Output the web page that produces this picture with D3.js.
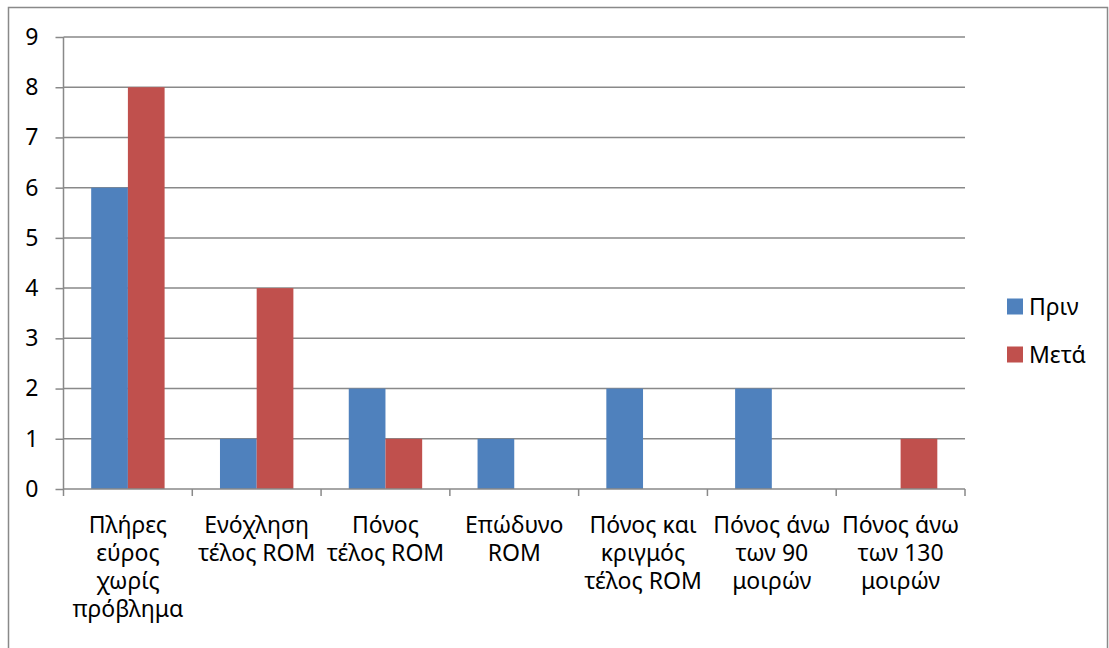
<!DOCTYPE html>
<html>
<head>
<meta charset="utf-8">
<script src="https://cdn.jsdelivr.net/npm/d3@7/dist/d3.min.js"></script>
<style>
  html, body { margin: 0; padding: 0; background: #fff; }
  svg { display: block; }
  text { font-family: "Noto Sans", sans-serif; fill: #000; }
</style>
</head>
<body>
<svg id="chart" width="1109" height="648"></svg>
<script>
// Category labels, already broken into lines
const categoryLines = [
  ["Πλήρες", "εύρος", "χωρίς", "πρόβλημα"],
  ["Ενόχληση", "τέλος ROM"],
  ["Πόνος", "τέλος ROM"],
  ["Επώδυνο", "ROM"],
  ["Πόνος και", "κριγμός", "τέλος ROM"],
  ["Πόνος άνω", "των 90", "μοιρών"],
  ["Πόνος άνω", "των 130", "μοιρών"]
];
const categories = categoryLines.map(l => l.join(" "));
const seriesNames = ["Πριν", "Μετά"];
const before = [6, 1, 2, 1, 2, 2, 0];
const after  = [8, 4, 1, 0, 0, 0, 1];
const yTicks = [0, 1, 2, 3, 4, 5, 6, 7, 8, 9];
const colors = ["#4F81BD", "#C0504D"];

const FONT = "'Noto Sans', sans-serif";
const FS = 23;

const svg = d3.select("#chart");
const gridColor = "#898989";

// outer frame
svg.append("rect")
  .attr("x", 8.5).attr("y", 7.5)
  .attr("width", 1099).attr("height", 660)
  .attr("fill", "none").attr("stroke", gridColor).attr("stroke-width", 1.5);

const plot = { left: 63.5, right: 965, top: 37, bottom: 489 };

const x0 = d3.scaleBand().domain(categories).range([plot.left, plot.right]);
const barW = x0.bandwidth() * 0.285;
const y = d3.scaleLinear().domain([0, 9]).range([plot.bottom, plot.top]);

// horizontal gridlines
svg.append("g").selectAll("line").data(yTicks.filter(t => t > 0)).join("line")
  .attr("x1", plot.left).attr("x2", plot.right)
  .attr("y1", d => y(d)).attr("y2", d => y(d))
  .attr("stroke", gridColor).attr("stroke-width", 1.5);

// bars
const rows = categories.map((c, i) => ({ c, vals: [before[i], after[i]] }));
const groups = svg.append("g").selectAll("g").data(rows).join("g")
  .attr("transform", d => `translate(${x0(d.c) + (x0.bandwidth() - 2 * barW) / 2},0)`);
groups.selectAll("rect").data(d => d.vals.map((v, k) => ({ v, k })).filter(e => e.v > 0)).join("rect")
  .attr("x", e => e.k * barW)
  .attr("width", barW)
  .attr("y", e => y(e.v))
  .attr("height", e => y(0) - y(e.v))
  .attr("fill", e => colors[e.k]);

// y axis
const yAxis = d3.axisLeft(y).tickValues(yTicks).tickSize(8).tickPadding(17).tickFormat(d3.format("d"));
const gy = svg.append("g").attr("transform", `translate(${plot.left},0)`).call(yAxis);
gy.select(".domain").attr("stroke", gridColor).attr("stroke-width", 1.5).attr("d", `M0,${plot.top}V${plot.bottom}`);
gy.selectAll(".tick line").attr("stroke", gridColor).attr("stroke-width", 1.5);
gy.selectAll(".tick text").attr("font-size", FS).attr("font-family", FONT).attr("fill", "#000");

// x axis: boundaries between categories
const bounds = categories.map(c => x0(c)).concat([plot.right]);
svg.append("line")
  .attr("x1", plot.left).attr("x2", plot.right)
  .attr("y1", plot.bottom).attr("y2", plot.bottom)
  .attr("stroke", gridColor).attr("stroke-width", 1.5);
svg.append("g").selectAll("line").data(bounds).join("line")
  .attr("x1", d => d).attr("x2", d => d)
  .attr("y1", plot.bottom).attr("y2", plot.bottom + 7)
  .attr("stroke", gridColor).attr("stroke-width", 1.5);

// category labels
const lbl = svg.append("g").selectAll("text").data(categoryLines).join("text")
  .attr("text-anchor", "middle")
  .attr("font-size", FS)
  .attr("x", (d, i) => x0(categories[i]) + x0.bandwidth() / 2)
  .attr("y", 533);
lbl.selectAll("tspan").data(d => d).join("tspan")
  .attr("x", function () { return d3.select(this.parentNode).attr("x"); })
  .attr("dy", (d, i) => i === 0 ? 0 : 27.9)
  .text(d => d);

// legend
const legend = svg.append("g").selectAll("g").data(seriesNames).join("g")
  .attr("transform", (d, i) => `translate(1007,${298.5 + i * 48})`);
legend.append("rect").attr("width", 16).attr("height", 16).attr("fill", (d, i) => colors[i]);
legend.append("text").attr("x", 22).attr("y", 16.5).attr("font-size", FS).text(d => d);
</script>
</body>
</html>
